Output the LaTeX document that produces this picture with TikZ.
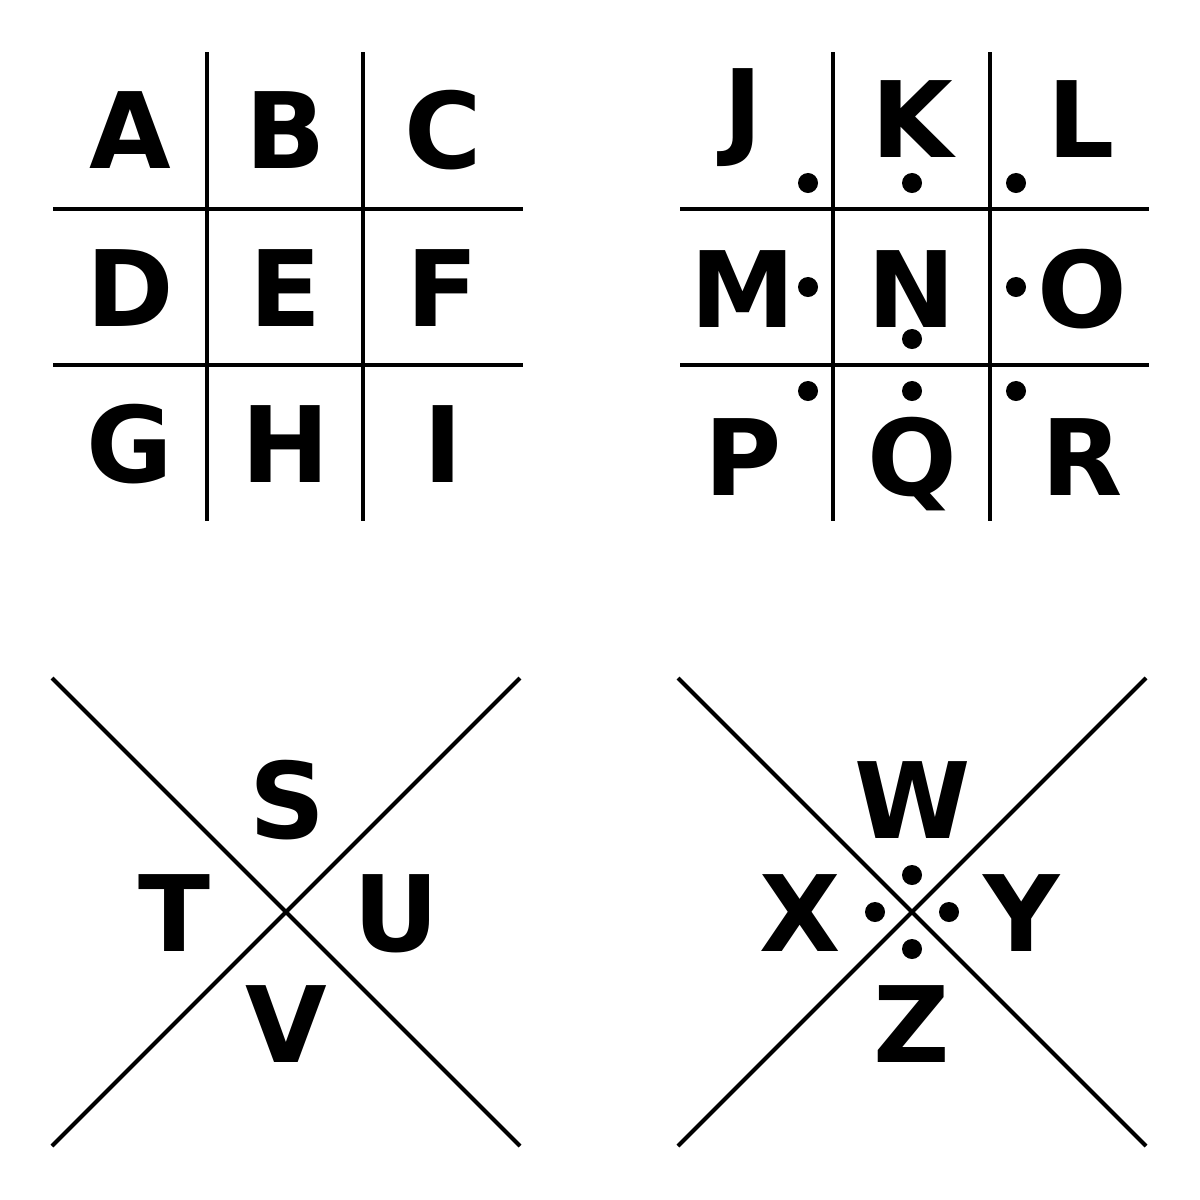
\documentclass[tikz,border=0pt]{standalone}
\usepackage{fontspec}
\setmainfont{DejaVu Sans}
\usepackage{tikz}
\usetikzlibrary{positioning}

\begin{document}
\begin{tikzpicture}[
      x=0.01cm, y=-0.01cm,
      type-letter/.style={anchor=base, inner sep=0pt, font=\bfseries\fontsize{30}{30}\selectfont},
      type-dot/.style={circle, fill=black, inner sep=0pt, minimum size=0.2cm},
      type-line/.style={line width=1.15pt}
    ]
      \useasboundingbox (0,0) rectangle (1200,1200);

      % first grid
      \draw[type-line] (207,52) -- (207,521) (363,52) -- (363,521)
                       (53,209) -- (523,209) (53,365) -- (523,365);
      \node[type-letter] (A) at (130,168) {A};
      \node[type-letter] (B) at (286,168) {B};
      \node[type-letter] (C) at (443,168) {C};
      \node[type-letter] (D) at (130,326) {D};
      \node[type-letter] (E) at (286,326) {E};
      \node[type-letter] (F) at (443,326) {F};
      \node[type-letter] (G) at (130,482) {G};
      \node[type-letter] (H) at (286,482) {H};
      \node[type-letter] (I) at (443,482) {I};

      % second grid, with dots
      \draw[type-line] (833,52) -- (833,521) (990,52) -- (990,521)
                       (680,209) -- (1149,209) (680,365) -- (1149,365);
      \node[type-letter] (J) at (743,145) {J};
      \node[type-letter] (K) at (912,157) {K};
      \node[type-letter] (L) at (1081,157) {L};
      \node[type-letter] (M) at (743,327) {M};
      \node[type-letter] (N) at (912,327) {N};
      \node[type-letter] (O) at (1082,327) {O};
      \node[type-letter] (P) at (743,495) {P};
      \node[type-letter] (Q) at (912,495) {Q};
      \node[type-letter] (R) at (1082,495) {R};
      \node[type-dot] (dJ) at (808,183) {};
      \node[type-dot] (dK) at (912,183) {};
      \node[type-dot] (dL) at (1016,183) {};
      \node[type-dot] (dM) at (808,287) {};
      \node[type-dot] (dN) at (912,339) {};
      \node[type-dot] (dO) at (1016,287) {};
      \node[type-dot] (dP) at (808,391) {};
      \node[type-dot] (dQ) at (912,391) {};
      \node[type-dot] (dR) at (1016,391) {};

      % first cross
      \draw[type-line] (52,678) -- (520,1146) (520,678) -- (52,1146);
      \node[type-letter] (S) at (287,838) {S};
      \node[type-letter] (T) at (174,951) {T};
      \node[type-letter] (U) at (396,951) {U};
      \node[type-letter] (V) at (286,1062) {V};

      % second cross, with dots
      \draw[type-line] (678,678) -- (1146,1146) (1146,678) -- (678,1146);
      \node[type-letter] (W) at (913,838) {W};
      \node[type-letter] (X) at (800,951) {X};
      \node[type-letter] (Y) at (1022,951) {Y};
      \node[type-letter] (Z) at (912,1062) {Z};
      \node[type-dot] (dW) at (912,875) {};
      \node[type-dot] (dX) at (875,912) {};
      \node[type-dot] (dY) at (949,912) {};
      \node[type-dot] (dZ) at (912,949) {};
    \end{tikzpicture}
\end{document}
